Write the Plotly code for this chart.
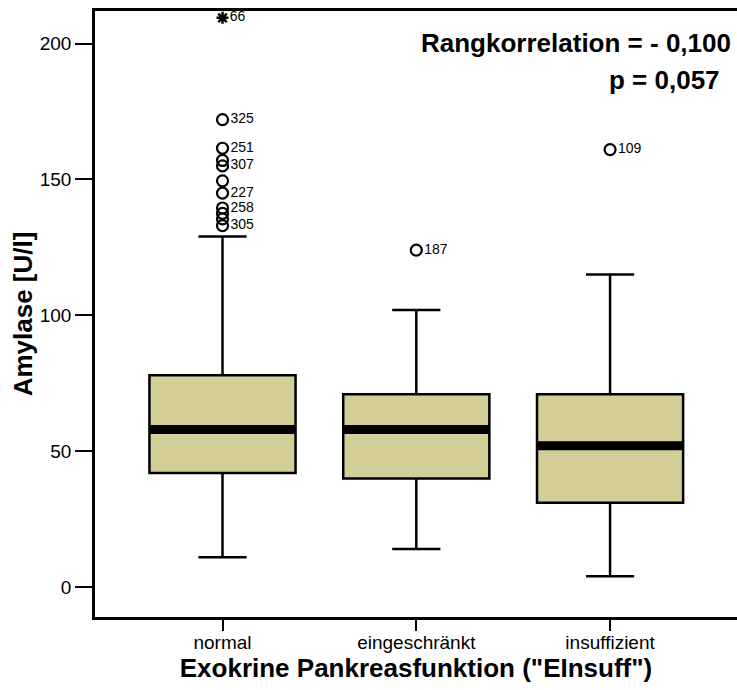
import plotly.graph_objects as go

# Amylase by exocrine pancreatic function group
categories = ["normal", "eingeschränkt", "insuffizient"]
q1 = [42, 40, 31]
median = [58, 58, 52]
q3 = [78, 71, 71]
lower_whisker = [11, 14, 4]
upper_whisker = [129, 102, 115]

# outliers (circle) and extremes (star) with case numbers
outlier_cat = [0, 0, 0, 0, 0, 0, 0, 0, 0, 0, 1, 2]
outlier_val = [172, 161.5, 157, 155, 149.5, 145, 139.5, 137.5, 135.5, 133, 124, 161]
outlier_lbl = ["325", "251", "", "307", "", "227", "258", "", "", "305", "187", "109"]
extreme_cat = [0]
extreme_val = [209.5]
extreme_lbl = ["66"]

FONT = "Liberation Sans, Arial, Helvetica, sans-serif"
FILL = "#D3CE98"
BOX_W = 0.754

fig = go.Figure()

for i, cat in enumerate(categories):
    fig.add_trace(go.Box(
        x=[i], q1=[q1[i]], median=[median[i]], q3=[q3[i]],
        lowerfence=[lower_whisker[i]], upperfence=[upper_whisker[i]],
        width=BOX_W, whiskerwidth=0.33,
        fillcolor=FILL, line=dict(color="black", width=2.5),
        boxpoints=False, showlegend=False, hoverinfo="skip",
    ))
    # thick median bar
    fig.add_trace(go.Scatter(
        x=[i - BOX_W / 2, i + BOX_W / 2], y=[median[i], median[i]],
        mode="lines", line=dict(color="black", width=9),
        showlegend=False, hoverinfo="skip",
    ))

fig.add_trace(go.Scatter(
    x=outlier_cat, y=outlier_val, mode="markers+text",
    marker=dict(symbol="circle-open", size=11, color="black", line=dict(width=2.2, color="black")),
    text=outlier_lbl, textposition="middle right",
    textfont=dict(family=FONT, size=14, color="black"),
    showlegend=False, hoverinfo="skip",
))
fig.add_trace(go.Scatter(
    x=extreme_cat, y=extreme_val, mode="markers+text",
    marker=dict(symbol="asterisk-open", size=10, color="black", line=dict(width=2.5, color="black")),
    text=extreme_lbl, textposition="middle right",
    textfont=dict(family=FONT, size=14, color="black"),
    showlegend=False, hoverinfo="skip",
))

fig.add_annotation(
    text="<b>Rangkorrelation = - 0,100</b>", xref="paper", yref="paper",
    x=1.0, y=0.947, xanchor="right", yanchor="middle", showarrow=False,
    xshift=-4, font=dict(family=FONT, size=26, color="black"),
)
fig.add_annotation(
    text="<b>p = 0,057</b>", xref="paper", yref="paper",
    x=1.0, y=0.886, xanchor="right", yanchor="middle", showarrow=False,
    xshift=-15, font=dict(family=FONT, size=26, color="black"),
)

fig.update_layout(
    width=737, height=690,
    margin=dict(l=95, r=0, t=11, b=73),
    plot_bgcolor="white", paper_bgcolor="white",
    font=dict(family=FONT, color="black"),
    xaxis=dict(
        range=[-0.658, 2.655],
        tickmode="array", tickvals=[0, 1, 2], ticktext=categories,
        ticks="outside", ticklen=11, tickwidth=2, tickcolor="black",
        ticklabelstandoff=-5,
        showline=True, linecolor="black", linewidth=2.5, mirror=True,
        showgrid=False, zeroline=False,
        tickfont=dict(family=FONT, size=19, color="black"),
        title=dict(text="<b>Exokrine Pankreasfunktion (\"EInsuff\")</b>",
                   font=dict(family=FONT, size=26, color="black"), standoff=2),
    ),
    yaxis=dict(
        range=[-11, 212],
        tickvals=[0, 50, 100, 150, 200],
        ticks="outside", ticklen=17, tickwidth=2, tickcolor="black",
        showline=True, linecolor="black", linewidth=2.5, mirror=False,
        showgrid=False, zeroline=False,
        tickfont=dict(family=FONT, size=19, color="black"),
        title=dict(text="<b>Amylase [U/l]</b>",
                   font=dict(family=FONT, size=26, color="black"), standoff=0),
    ),
)

fig.write_html("out.html")
